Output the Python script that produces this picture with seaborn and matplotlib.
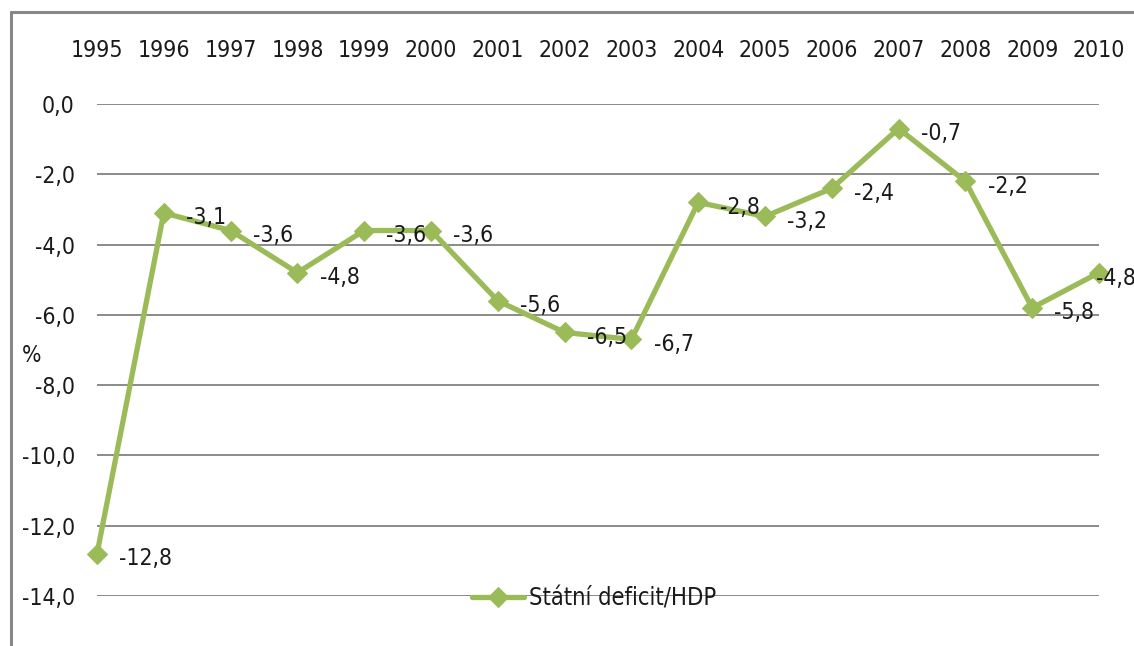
import matplotlib
matplotlib.use("Agg")
import matplotlib.pyplot as plt
from matplotlib import font_manager as fm
from matplotlib.lines import Line2D
import seaborn as sns
import pandas as pd

years = [1995, 1996, 1997, 1998, 1999, 2000, 2001, 2002, 2003, 2004, 2005, 2006, 2007, 2008, 2009, 2010]
deficit = [-12.8, -3.1, -3.6, -4.8, -3.6, -3.6, -5.6, -6.5, -6.7, -2.8, -3.2, -2.4, -0.7, -2.2, -5.8, -4.8]
series_name = "Státní deficit/HDP"
y_ticks = [0, -2, -4, -6, -8, -10, -12, -14]

sns.set_theme(style="white")

# pick a narrow font if one is available
family, stretch, FS = "Roboto", "normal", 15.5
files = fm.findSystemFonts()
narrow = [f for f in files if "LiberationSansNarrow-Regular" in f]
cond = [f for f in files if f.endswith("DejaVuSansCondensed.ttf")]
if narrow:
    fm.fontManager.addfont(narrow[0])
    family = fm.FontProperties(fname=narrow[0]).get_name()
    FS = 19
elif cond:
    fm.fontManager.addfont(cond[0])
    family, stretch, FS = "DejaVu Sans", "condensed", 16.5
plt.rcParams['font.family'] = [family, 'DejaVu Sans']
plt.rcParams['font.stretch'] = stretch

GREEN = "#9BBB59"
TXT = "#1a1a1a"

fig = plt.figure(figsize=(11.34, 6.46), dpi=100)
ax = fig.add_axes([97/1134, 50/646, 1002/1134, 492/646])

df = pd.DataFrame({"year": years, "val": deficit})
sns.lineplot(data=df, x="year", y="val", ax=ax, color=GREEN, linewidth=3.8,
             marker="D", markersize=10, markeredgecolor=GREEN, markerfacecolor=GREEN,
             label=series_name, clip_on=False, zorder=3)

for i, (x, v) in enumerate(zip(years, deficit)):
    last = i == len(years) - 1
    ax.annotate(f"{v:.1f}".replace(".", ","), (x, v),
                xytext=(-2, -4.5) if last else (16, -3.5),
                textcoords="offset points", ha="left", va="center",
                fontsize=FS, color=TXT, zorder=4, annotation_clip=False)

ax.set_xlim(1995, 2010)
ax.set_ylim(-14, 0)
ax.set_xticks(years)
ax.set_xticklabels([str(y) for y in years])
ax.xaxis.tick_top()
ax.set_yticks(y_ticks)
ax.set_yticklabels([f"{t:.1f}".replace(".", ",") for t in y_ticks])
ax.tick_params(axis="x", length=0, pad=30, labelsize=FS, labelcolor=TXT)
ax.tick_params(axis="y", length=0, pad=16, labelsize=FS, labelcolor=TXT)
ax.set_xlabel("")
ax.set_ylabel("")
for s in ax.spines.values():
    s.set_visible(False)
ax.yaxis.grid(True, color="#8a8a8a", linewidth=1.4)
ax.xaxis.grid(False)
ax.set_axisbelow(True)

fig.text(32/1134, 1 - 355/646, "%", fontsize=FS, color=TXT, ha="center", va="center")

leg = ax.legend(loc="center", bbox_to_anchor=(594/1134, 1 - 598/646),
                bbox_transform=fig.transFigure, frameon=False, fontsize=FS + 0.5,
                handlelength=2.2, handletextpad=0.2, borderpad=0)
for t in leg.get_texts():
    t.set_color(TXT)

fig.add_artist(Line2D([11/1134, 11/1134], [0, 1 - 12/646], transform=fig.transFigure,
                      color="#878787", linewidth=2.2))
fig.add_artist(Line2D([11/1134, 1], [1 - 12/646, 1 - 12/646], transform=fig.transFigure,
                      color="#878787", linewidth=2.2))

fig.savefig("out.png", dpi=100)
